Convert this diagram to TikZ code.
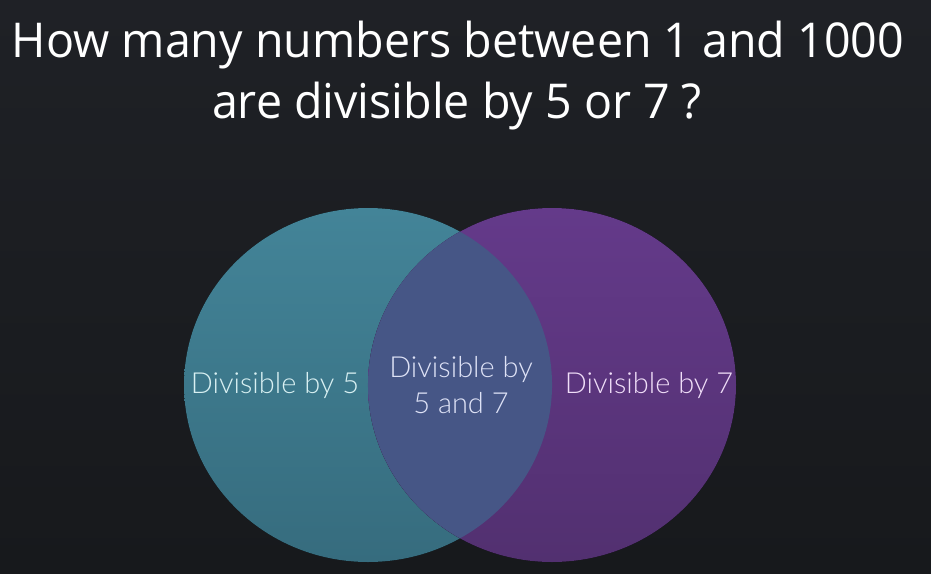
\documentclass[tikz,border=0pt]{standalone}
\usepackage{fontspec}
\setmainfont{Open Sans}
\newfontfamily\titlefont{Open Sans}[FakeStretch=0.97]
\newfontfamily\lblfont{Lato Light}
\definecolor{bgtop}{RGB}{31,33,38}
\definecolor{bgbot}{RGB}{23,25,28}
\definecolor{tealtop}{RGB}{67,132,152}
\definecolor{tealbot}{RGB}{54,108,126}
\definecolor{plumtop}{RGB}{100,58,138}
\definecolor{plumbot}{RGB}{82,48,112}
\definecolor{lensmid}{RGB}{70,86,134}
\tikzset{
  question/.style={anchor=base, text=white, inner sep=0pt,
    font=\titlefont\fontsize{48}{58}\selectfont},
  setlabel/.style={inner sep=0pt, align=center,
    font=\lblfont\fontsize{29}{36}\selectfont},
}
\begin{document}
\begin{tikzpicture}[x=1pt,y=-1pt]
    \def\lx{368}; \def\rx{552}; \def\cy{385};
    \def\ra{184}; \def\rb{177};

    % background
    \fill[top color=bgtop, bottom color=bgbot] (0,0) rectangle (931,573);
    \useasboundingbox (0,0) rectangle (931,573);

    % the two sets
    \fill[top color=tealtop, bottom color=tealbot]
      (\lx,\cy) ellipse [x radius=\ra, y radius=\rb];
    \fill[top color=plumtop, bottom color=plumbot]
      (\rx,\cy) ellipse [x radius=\ra, y radius=\rb];

    % overlap
    \coordinate (top) at (460,231.7);
    \fill[lensmid]
      (top) arc [start angle=240, end angle=120, x radius=\ra, y radius=\rb]
            arc [start angle=60, end angle=-60, x radius=\ra, y radius=\rb]
      -- cycle;

    \node[question] (qa) at (458,57) {How many numbers between 1 and 1000};
    \node[question] (qb) at (457,118) {are divisible by 5 or 7 ?};

    \node[setlabel, text={rgb,255:red,216;green,240;blue,242}] (five) at (275,385) {Divisible by 5};
    \node[setlabel, text={rgb,255:red,222;green,226;blue,246}] (both) at (461,385) {Divisible by\\5 and 7};
    \node[setlabel, text={rgb,255:red,240;green,222;blue,248}] (seven) at (649,385) {Divisible by 7};
\end{tikzpicture}
\end{document}
